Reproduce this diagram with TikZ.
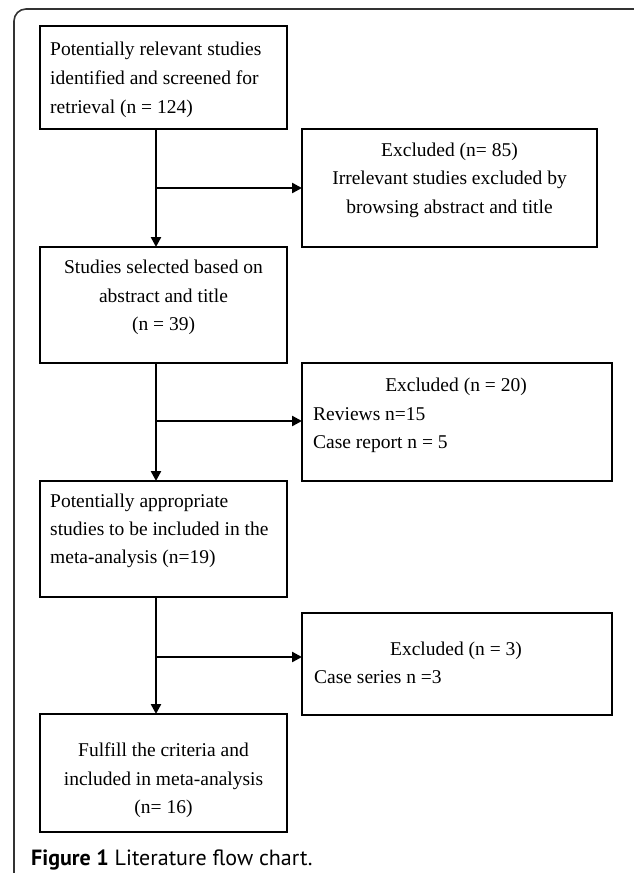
\documentclass[tikz,border=0pt]{standalone}
\usepackage{fontspec}
\setmainfont{Liberation Serif}
\newfontfamily\capfont{PT Sans}
\usetikzlibrary{arrows.meta}
\begin{document}
\begin{tikzpicture}[x=1pt,y=-1pt,
  box/.style={draw, line width=1.3pt, inner sep=0pt, outer sep=0pt, anchor=north west},
  txt/.style={font=\fontsize{19.5}{29}\selectfont, inner sep=0pt, anchor=base},
  txtl/.style={txt, anchor=base west},
  arr/.style={line width=2.4pt, -{Triangle[length=10pt,width=10pt]}},
  frame/.style={line width=1.6pt, draw=black!80, rounded corners=12pt}]
\useasboundingbox (0,0) rectangle (633,873);
\draw[frame] (14,890) -- (14,9) -- (650,9) -- (650,890);

% boxes
\node[box, minimum width=247pt, minimum height=103pt] (b1) at (40,26) {};
\node[box, minimum width=295pt, minimum height=118pt] (b2) at (302,129) {};
\node[box, minimum width=247pt, minimum height=116pt] (b3) at (40,247) {};
\node[box, minimum width=310pt, minimum height=118pt] (b4) at (302,363) {};
\node[box, minimum width=247pt, minimum height=116pt] (b5) at (40,481) {};
\node[box, minimum width=310pt, minimum height=102pt] (b6) at (302,613) {};
\node[box, minimum width=247pt, minimum height=118pt] (b7) at (40,714) {};

% texts
\node[txtl] (t1a) at (50,55) {Potentially relevant studies};
\node[txtl] (t1b) at (50,84) {identified and screened for};
\node[txtl] (t1c) at (50,113) {retrieval (n = 124)};

\node[txt] (t2a) at (449.5,156) {Excluded (n= 85)};
\node[txt] (t2b) at (449.5,184.5) {Irrelevant studies excluded by};
\node[txt] (t2c) at (449.5,213) {browsing abstract and title};

\node[txt] (t3a) at (163.5,273) {Studies selected based on};
\node[txt] (t3b) at (163.5,302) {abstract and title};
\node[txt] (t3c) at (163.5,330) {(n = 39)};

\node[txt] (t4a) at (456,391) {Excluded (n = 20)};
\node[txtl] (t4b) at (313,420) {Reviews n=15};
\node[txtl] (t4c) at (313,448) {Case report n = 5};

\node[txtl] (t5a) at (50,507) {Potentially appropriate};
\node[txtl] (t5b) at (50,535) {studies to be included in the};
\node[txtl] (t5c) at (50,563) {meta-analysis (n=19)};

\node[txt] (t6a) at (456,655) {Excluded (n = 3)};
\node[txtl] (t6b) at (314,683) {Case series n =3};

\node[txt] (t7a) at (163.5,756) {Fulfill the criteria and};
\node[txt] (t7b) at (163.5,785) {included in meta-analysis};
\node[txt] (t7c) at (163.5,813) {(n= 16)};

% junctions
\coordinate (j1) at (156,188);
\coordinate (j2) at (156,421);
\coordinate (j3) at (156,657);

% connectors
\draw[arr] (b1.south -| j1) -- (b3.north -| j1);
\draw[arr] (j1) -- (j1 -| b2.west);
\draw[arr] (b3.south -| j2) -- (b5.north -| j2);
\draw[arr] (j2) -- (j2 -| b4.west);
\draw[arr] (b5.south -| j3) -- (b7.north -| j3);
\draw[arr] (j3) -- (j3 -| b6.west);

% caption
\node[anchor=base west, inner sep=0pt, font=\capfont\fontsize{22}{26}\selectfont] (cap) at (31,865) {\textbf{Figure 1} Literature flow chart.};
\end{tikzpicture}
\end{document}
